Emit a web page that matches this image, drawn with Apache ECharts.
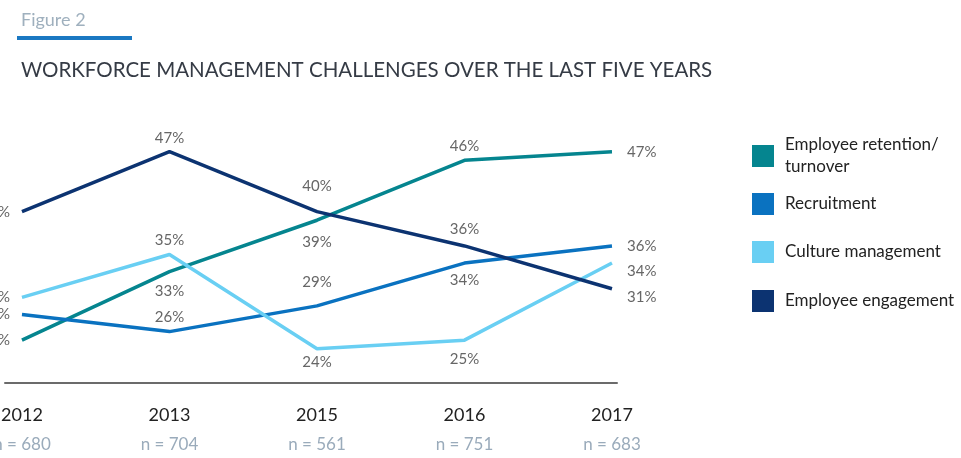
<!DOCTYPE html>
<html>
<head>
<meta charset="utf-8">
<script src="https://cdn.jsdelivr.net/npm/echarts@6/dist/echarts.min.js"></script>
<style>
  html, body { margin: 0; padding: 0; background: #fff; }
  #chart { width: 961px; height: 458px; }
</style>
</head>
<body>
<div id="chart"></div>
<script>
// data
const years = ['2012', '2013', '2015', '2016', '2017'];
const sampleSizes = ['680', '704', '561', '751', '683'];

const retention = [25, 33, 39, 46, 47];
const recruitment = [28, 26, 29, 34, 36];
const culture = [30, 35, 24, 25, 34];
const engagement = [40, 47, 40, 36, 31];

// where each value label sits: [position, distance]
const retentionLabels = [['left', 12], ['bottom', 12], ['bottom', 14], ['top', 7], ['right', 15]];
const recruitmentLabels = [['left', 12], ['top', 7], ['top', 16], ['bottom', 10], ['right', 15]];
const cultureLabels = [['left', 12], ['top', 7], ['bottom', 6], ['bottom', 11], ['right', 15]];
const engagementLabels = [['left', 12], ['top', 6], ['top', 18], ['top', 9], ['right', 15]];

const seriesDefs = [
  { name: 'Employee retention/\nturnover', values: retention, labels: retentionLabels, color: '#05858f' },
  { name: 'Recruitment', values: recruitment, labels: recruitmentLabels, color: '#0a72c0' },
  { name: 'Culture management', values: culture, labels: cultureLabels, color: '#69cff3' },
  { name: 'Employee engagement', values: engagement, labels: engagementLabels, color: '#0c3371' }
];

// the last point label of culture/engagement sits a bit lower
const lastOffsets = { 'Culture management': [0, 8], 'Employee engagement': [0, 8] };

var dom = document.getElementById('chart');
var myChart = echarts.init(dom, null, { renderer: 'canvas' });

const FONT = 'Lato, "Open Sans", sans-serif';

function buildSeries(def) {
  let data = [];
  for (let i = 0; i < def.values.length; i++) {
    let lab = {
      position: def.labels[i][0],
      distance: def.labels[i][1]
    };
    if (i === def.values.length - 1 && lastOffsets[def.name]) {
      lab.offset = lastOffsets[def.name];
    }
    data.push({ value: [i, def.values[i]], label: lab });
  }
  return {
    name: def.name,
    type: 'line',
    data: data,
    symbol: 'circle',
    symbolSize: 0,
    color: def.color,
    itemStyle: { color: def.color },
    lineStyle: { width: 3.5, color: def.color },
    label: {
      show: true,
      formatter: p => p.value[1] + '%',
      color: '#666',
      fontSize: 15,
      fontFamily: FONT
    },
    emphasis: { disabled: true },
    silent: true,
    animation: false
  };
}

const legendTops = [134, 193, 241, 290];

var option = {
  backgroundColor: '#fff',
  animation: false,
  title: [
    {
      text: 'Figure 2',
      left: 16,
      top: 6,
      textStyle: { color: '#9fb0be', fontSize: 18, fontWeight: 'normal', fontFamily: FONT }
    },
    {
      text: 'WORKFORCE MANAGEMENT CHALLENGES OVER THE LAST FIVE YEARS',
      left: 16,
      top: 55,
      textStyle: { color: '#353b45', fontSize: 20.5, fontWeight: 'normal', fontFamily: FONT }
    }
  ],
  graphic: [
    { type: 'rect', left: 17, top: 36, shape: { width: 115, height: 4 }, style: { fill: '#1a78c2' } }
  ],
  legend: seriesDefs.map((d, i) => ({
    data: [d.name],
    left: 752,
    top: legendTops[i],
    orient: 'vertical',
    icon: 'rect',
    itemWidth: 22,
    itemHeight: 22,
    itemGap: 0,
    padding: 0,
    selectedMode: false,
    textStyle: { color: '#222', fontSize: 17, lineHeight: 22, fontFamily: FONT, padding: [0, 0, 0, 6] }
  })),
  grid: {
    left: 5,
    top: 126,
    width: 612,
    height: 257,
    containLabel: false,
    outerBoundsMode: 'none'
  },
  xAxis: {
    type: 'value',
    min: -0.115,
    max: 4.034,
    splitLine: { show: false },
    axisTick: { show: false },
    axisLine: { show: true, onZero: false, lineStyle: { color: '#6b6b6b', width: 2 } },
    axisLabel: {
      customValues: [0, 1, 2, 3, 4],
      margin: 18,
      formatter: v => '{y|' + years[v] + '}\n{n|n = ' + sampleSizes[v] + '}',
      rich: {
        y: { fontSize: 18, color: '#222', lineHeight: 28, fontFamily: FONT },
        n: { fontSize: 17, color: '#9aabbb', lineHeight: 31, fontFamily: FONT }
      }
    }
  },
  yAxis: {
    type: 'value',
    min: 20,
    max: 50,
    show: false,
    splitLine: { show: false }
  },
  series: seriesDefs.map(buildSeries)
};

if (option && typeof option === 'object') {
  myChart.setOption(option);
}

window.addEventListener('resize', myChart.resize);
</script>
</body>
</html>
